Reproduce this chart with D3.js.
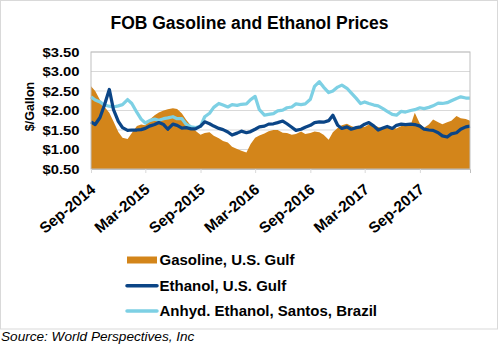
<!DOCTYPE html>
<html>
<head>
<meta charset="utf-8">
<script src="https://cdn.jsdelivr.net/npm/d3@7/dist/d3.min.js"></script>
<style>
  html, body { margin: 0; padding: 0; background: #fff; }
  svg { display: block; font-family: "Liberation Sans", Arial, sans-serif; }
</style>
</head>
<body>
<svg id="chart" width="499" height="347"></svg>
<script>
// ---- data (half-monthly readings) ----
const dates = [
  "2014-09-01","2014-09-15","2014-10-01","2014-10-15","2014-11-01","2014-11-15","2014-12-01","2014-12-15",
  "2015-01-01","2015-01-15","2015-02-01","2015-02-15","2015-03-01","2015-03-15","2015-04-01","2015-04-15",
  "2015-05-01","2015-05-15","2015-06-01","2015-06-15","2015-07-01","2015-07-15","2015-08-01","2015-08-15",
  "2015-09-01","2015-09-15","2015-10-01","2015-10-15","2015-11-01","2015-11-15","2015-12-01","2015-12-15",
  "2016-01-01","2016-01-15","2016-02-01","2016-02-15","2016-03-01","2016-03-15","2016-04-01","2016-04-15",
  "2016-05-01","2016-05-15","2016-06-01","2016-06-15","2016-07-01","2016-07-15","2016-08-01","2016-08-15",
  "2016-09-01","2016-09-15","2016-10-01","2016-10-15","2016-11-01","2016-11-15","2016-12-01","2016-12-15",
  "2017-01-01","2017-01-15","2017-02-01","2017-02-15","2017-03-01","2017-03-15","2017-04-01","2017-04-15",
  "2017-05-01","2017-05-15","2017-06-01","2017-06-15","2017-07-01","2017-07-15","2017-08-01","2017-08-15",
  "2017-09-01","2017-09-15","2017-10-01","2017-10-15","2017-11-01","2017-11-15","2017-12-01","2017-12-15",
  "2018-01-01","2018-01-15","2018-02-01","2018-02-15"
];
const gasolineUSGulf = [
  2.62,2.50,2.27,2.10,1.94,1.72,1.45,1.30,
  1.27,1.42,1.60,1.64,1.62,1.76,1.88,1.95,
  2.00,2.03,2.06,2.04,1.92,1.76,1.60,1.48,
  1.38,1.42,1.44,1.35,1.29,1.22,1.18,1.07,
  1.01,0.97,0.92,1.14,1.30,1.36,1.41,1.47,
  1.50,1.50,1.43,1.42,1.38,1.40,1.46,1.40,
  1.42,1.46,1.44,1.38,1.25,1.44,1.55,1.62,
  1.66,1.60,1.55,1.58,1.58,1.64,1.62,1.58,
  1.54,1.58,1.56,1.54,1.60,1.61,1.62,1.94,
  1.66,1.56,1.64,1.77,1.70,1.65,1.70,1.74,
  1.86,1.80,1.78,1.74
];
const ethanolUSGulf = [
  1.71,1.64,1.82,2.12,2.54,2.02,1.72,1.56,
  1.49,1.50,1.50,1.51,1.54,1.60,1.64,1.69,
  1.64,1.52,1.65,1.62,1.55,1.56,1.53,1.53,
  1.60,1.71,1.66,1.60,1.54,1.51,1.45,1.37,
  1.42,1.47,1.43,1.46,1.52,1.58,1.60,1.65,
  1.66,1.69,1.73,1.66,1.57,1.49,1.52,1.57,
  1.62,1.69,1.71,1.70,1.74,1.88,1.62,1.54,
  1.58,1.52,1.56,1.58,1.65,1.69,1.60,1.50,
  1.55,1.59,1.54,1.62,1.65,1.64,1.65,1.64,
  1.60,1.52,1.50,1.49,1.43,1.35,1.32,1.40,
  1.43,1.52,1.58,1.60
];
const anhydEthanolSantos = [
  2.35,2.27,2.22,2.14,2.11,2.09,2.12,2.15,
  2.28,2.18,1.95,1.78,1.68,1.74,1.78,1.75,
  1.79,1.81,1.84,1.79,1.79,1.65,1.58,1.56,
  1.59,1.84,1.93,2.08,2.18,2.14,2.09,2.15,
  2.13,2.16,2.17,2.28,2.36,2.02,1.88,1.90,
  1.92,1.99,2.01,2.07,2.09,2.17,2.15,2.17,
  2.29,2.62,2.74,2.60,2.46,2.50,2.60,2.65,
  2.57,2.45,2.31,2.18,2.22,2.18,2.14,2.12,
  2.05,1.98,1.90,1.88,1.98,1.96,2.00,2.02,
  2.07,2.05,2.08,2.12,2.19,2.18,2.20,2.25,
  2.31,2.35,2.32,2.32
];
const yTicks = [0.5, 1.0, 1.5, 2.0, 2.5, 3.0, 3.5];
const xTickDates = ["2014-09-01","2015-03-01","2015-09-01","2016-03-01","2016-09-01","2017-03-01","2017-09-01"];
const seriesNames = ["Gasoline, U.S. Gulf", "Ethanol, U.S. Gulf", "Anhyd. Ethanol, Santos, Brazil"];
const colors = ["#D3851A", "#0B4586", "#7DD0E4"];
const title = "FOB Gasoline and Ethanol Prices";
const yLabel = "$/Gallon";
const source = "Source: World Perspectives, Inc";

// ---- chart ----
const parse = d3.timeParse("%Y-%m-%d");
const dts = dates.map(parse);
const svg = d3.select("#chart");
const W = 499, H = 347;
const plot = { left: 91, right: 470, top: 52, bottom: 169 };

svg.append("rect").attr("width", W).attr("height", H).attr("fill", "#fff");
svg.append("rect").attr("x", 0.5).attr("y", 0.5).attr("width", 497).attr("height", 328.5)
  .attr("fill", "none").attr("stroke", "#d9d9d9");

const x = d3.scaleTime().domain([dts[0], dts[dts.length - 1]]).range([plot.left, plot.right]);
const y = d3.scaleLinear().domain([0.5, 3.5]).range([plot.bottom, plot.top]);

// gridlines
svg.append("g").selectAll("line").data(yTicks).join("line")
  .attr("x1", plot.left).attr("x2", plot.right)
  .attr("y1", d => y(d)).attr("y2", d => y(d))
  .attr("stroke", "#d9d9d9").attr("stroke-width", 1);

// area
const gas = dts.map((d, i) => ({ d, v: gasolineUSGulf[i] }));
svg.append("path").datum(gas)
  .attr("fill", colors[0])
  .attr("d", d3.area().x(p => x(p.d)).y0(y(0.5)).y1(p => y(p.v)));

// lines
const line = d3.line().x(p => x(p.d)).y(p => y(p.v));
const anh = dts.map((d, i) => ({ d, v: anhydEthanolSantos[i] }));
const eth = dts.map((d, i) => ({ d, v: ethanolUSGulf[i] }));
svg.append("path").datum(anh).attr("fill", "none").attr("stroke", colors[2])
  .attr("stroke-width", 3.25).attr("stroke-linejoin", "round").attr("d", line);
svg.append("path").datum(eth).attr("fill", "none").attr("stroke", colors[1])
  .attr("stroke-width", 3.25).attr("stroke-linejoin", "round").attr("d", line);

// plot frame
svg.append("rect").attr("x", plot.left).attr("y", plot.top)
  .attr("width", plot.right - plot.left).attr("height", plot.bottom - plot.top)
  .attr("fill", "none").attr("stroke", "#bfbfbf").attr("stroke-width", 1);

// y axis labels
const yAxis = d3.axisLeft(y).tickValues(yTicks).tickSize(0).tickPadding(11.5)
  .tickFormat(d => "$" + d3.format(".2f")(d));
const gy = svg.append("g").attr("transform", `translate(${plot.left},0)`).call(yAxis);
gy.select(".domain").remove();
gy.selectAll("text")
  .attr("font-size", 12.5).attr("font-weight", "bold").attr("fill", "#000")
  .attr("font-family", "'Liberation Sans', Arial, sans-serif")
  .attr("textLength", 37).attr("lengthAdjust", "spacingAndGlyphs");

// x axis
const xAxis = d3.axisBottom(x).tickValues(xTickDates.map(parse)).tickSize(4)
  .tickFormat(d3.timeFormat("%b-%Y"));
const gx = svg.append("g").attr("transform", `translate(0,${plot.bottom})`).call(xAxis);
gx.select(".domain").attr("stroke", "#bfbfbf");
gx.selectAll(".tick line").attr("stroke", "#d9d9d9");
gx.selectAll("text")
  .attr("font-size", 15.3).attr("font-weight", "bold").attr("fill", "#000")
  .attr("font-family", "'Liberation Sans', Arial, sans-serif")
  .attr("text-anchor", "end").attr("dy", null).attr("y", null)
  .attr("transform", "translate(5,22) rotate(-40)");

// y label
svg.append("text").attr("transform", `translate(34,${(plot.top + plot.bottom) / 2 - 4}) rotate(-90)`)
  .attr("text-anchor", "middle").attr("font-size", 12.5).attr("font-weight", "bold")
  .text(yLabel);

// title
svg.append("text").attr("x", 249.5).attr("y", 29).attr("text-anchor", "middle")
  .attr("font-size", 17.5).attr("font-weight", "bold").text(title);

// legend
const lg = svg.append("g");
const rows = [265, 290.7, 316];
seriesNames.forEach((name, i) => {
  const cy = rows[i] - 5;
  if (i === 0) {
    lg.append("rect").attr("x", 127).attr("y", cy - 3.5).attr("width", 30).attr("height", 7).attr("fill", colors[0]);
  } else {
    lg.append("line").attr("x1", 127).attr("x2", 157).attr("y1", cy).attr("y2", cy)
      .attr("stroke", colors[i]).attr("stroke-width", 3.5).attr("stroke-linecap", "round");
  }
  lg.append("text").attr("x", 159.5).attr("y", rows[i]).attr("font-size", 15)
    .attr("font-weight", "bold").text(name);
});

// source
svg.append("text").attr("x", 1).attr("y", 341).attr("font-size", 13.6)
  .attr("font-style", "italic").text(source);
</script>
</body>
</html>
